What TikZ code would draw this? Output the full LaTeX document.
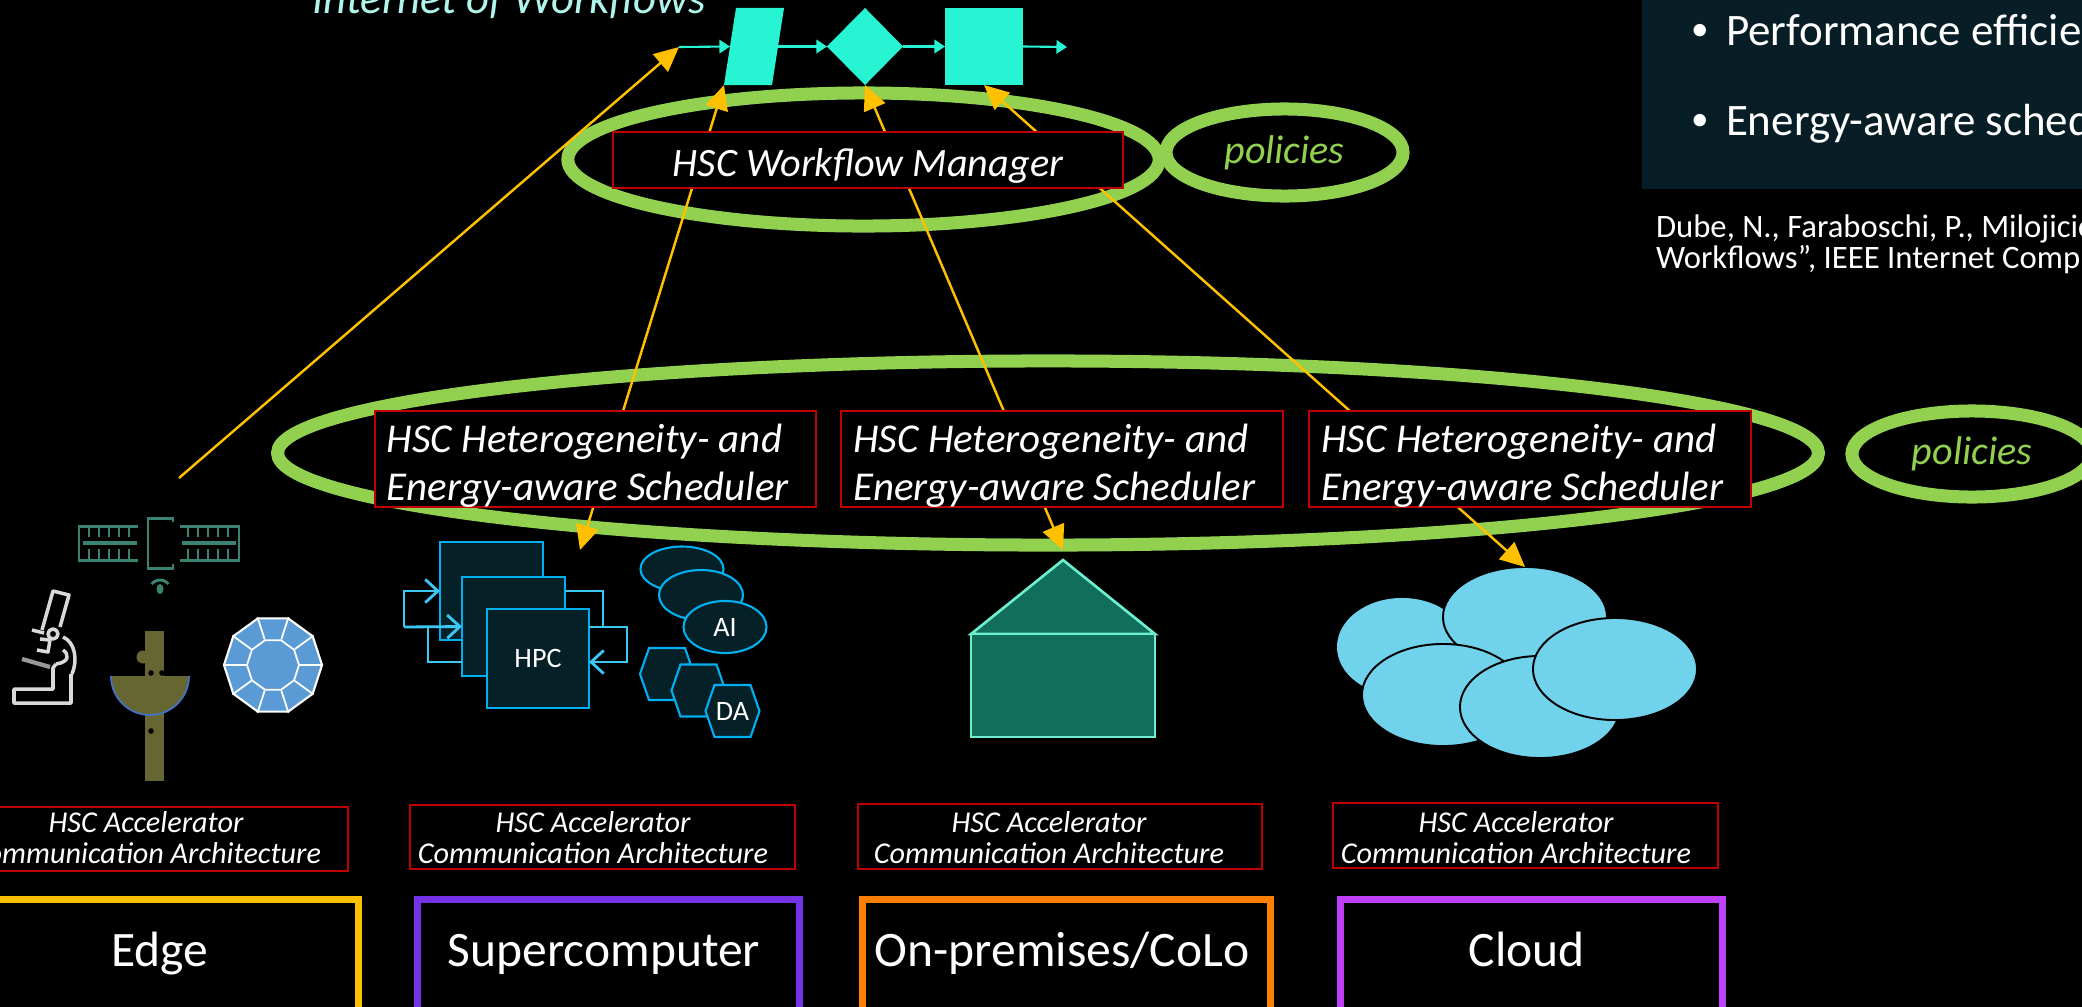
\documentclass[tikz,border=0pt]{standalone}
\usepackage{fontspec}
\setmainfont{Carlito}
\usetikzlibrary{arrows.meta,shapes.geometric,calc}

\definecolor{wfcyan}{RGB}{38,244,210}
\definecolor{wftitle}{RGB}{175,245,235}
\definecolor{lime}{RGB}{146,208,80}
\definecolor{amber}{RGB}{255,192,0}
\definecolor{boxred}{RGB}{192,0,0}
\definecolor{panel}{RGB}{7,30,38}
\definecolor{hpcfill}{RGB}{6,32,40}
\definecolor{hpcline}{RGB}{0,176,240}
\definecolor{loopline}{RGB}{60,200,245}
\definecolor{housefill}{RGB}{16,110,90}
\definecolor{houseline}{RGB}{110,240,208}
\definecolor{cloudfill}{RGB}{112,210,235}
\definecolor{sat}{RGB}{58,130,114}
\definecolor{olive}{RGB}{102,102,51}
\definecolor{bowlblue}{RGB}{68,114,196}
\definecolor{gem}{RGB}{91,155,213}
\definecolor{microgray}{RGB}{217,217,217}
\definecolor{edgec}{RGB}{255,192,0}
\definecolor{superc}{RGB}{118,50,230}
\definecolor{premc}{RGB}{255,128,0}
\definecolor{cloudc}{RGB}{192,64,250}

\begin{document}
\begin{tikzpicture}[x=0.01cm,y=-0.01cm,
  txt/.style={inner sep=0pt, outer sep=0pt, text=white},
  ring/.style={draw=lime, line width=3.7pt},
  redbox/.style={draw=boxred, line width=0.6pt, inner sep=0pt, outer sep=0pt},
  yline/.style={draw=amber, line width=0.7pt, >={Triangle[length=7pt,width=6.5pt]}},
  wfline/.style={draw=wfcyan, line width=0.6pt, ->, >={Triangle[length=3pt,width=3.8pt]}},
  hpcshape/.style={draw=hpcline, fill=hpcfill, line width=0.6pt, inner sep=0pt, outer sep=0pt},
  hpcloop/.style={draw=loopline, line width=0.8pt, >={Straight Barb[length=3.6pt,width=6.6pt]}},
  cloudpart/.style={ellipse, fill=cloudfill, draw=black, line width=0.55pt, inner sep=0pt, outer sep=0pt},
  platbox/.style={line width=2pt, inner sep=0pt, anchor=north west},
  accbox/.style={redbox, anchor=north west},
  wmfont/.style={font={\fontsize{11.45pt}{13pt}\selectfont\itshape}},
  schedfont/.style={font={\fontsize{11.65pt}{13pt}\selectfont\itshape}},
  accfont/.style={font={\fontsize{8.6pt}{9pt}\selectfont\itshape}},
  platfont/.style={font={\fontsize{14.1pt}{16pt}\selectfont}},
  polfont/.style={font={\fontsize{11.4pt}{13pt}\selectfont\itshape}},
  bulletfont/.style={font={\fontsize{12.8pt}{15pt}\selectfont}},
  dotfont/.style={font={\fontsize{10pt}{12pt}\selectfont}},
  citefont/.style={font={\fontsize{9.3pt}{11pt}\selectfont}},
  titlefont/.style={font={\fontsize{12.7pt}{15pt}\selectfont\itshape}},
  smallfont/.style={font={\fontsize{8pt}{9pt}\selectfont}}
]
\useasboundingbox (0,0) rectangle (2082,1006);
\fill[black] (-50,-50) rectangle (2150,1060);

% ---------- reference panel (top right) ----------
\fill[panel] (1642,-10) rectangle (2100,189);
\node[txt, dotfont, anchor=base west] (dot1) at (1691,40) {•};
\node[txt, bulletfont, anchor=base west] (perf) at (1726,45) {Performance efficiency};
\node[txt, dotfont, anchor=base west] (dot2) at (1691,130) {•};
\node[txt, bulletfont, anchor=base west] (ener) at (1726,135) {Energy-aware scheduling};
\node[txt, citefont, anchor=base west] (cite1) at (1656,237) {Dube, N., Faraboschi, P., Milojicic, D.,};
\node[txt, citefont, anchor=base west] (cite2) at (1656,268) {Workflows”, IEEE Internet Computing};

% ---------- workflow ----------
\node[txt, titlefont, text=wftitle, anchor=base] (title) at (509,14) {Internet of Workflows};
\node[inner sep=0pt, outer sep=0pt, minimum width=0.6cm, minimum height=0.77cm] (par) at (754,46.5) {};
\fill[wfcyan] (par.south west) -- ($(par.south east)+(-12,0)$) -- (par.north east) -- ($(par.north west)+(12,0)$) -- cycle;
\node[diamond, fill=wfcyan, inner sep=0pt, outer sep=0pt, minimum width=0.76cm, minimum height=0.77cm] (dia) at (865,46.5) {};
\node[fill=wfcyan, inner sep=0pt, outer sep=0pt, minimum width=0.78cm, minimum height=0.77cm] (sq) at (984,46.5) {};
\coordinate (wfin) at (679,47);
\coordinate (wfout) at (1067,47);
\draw[wfline] (wfin) -- ($(par.west)+(6,0)$);
\draw[wfline] ($(par.east)+(-6,0)$) -- (dia.west);
\draw[wfline] (dia.east) -- (sq.west);
\draw[wfline] (sq.east) -- (wfout);

% ---------- edge devices ----------
% satellite
\begin{scope}[draw=sat, line width=0.85pt]
  \draw (138,526) -- (79,526) -- (79,560) -- (138,560);
  \draw (180,526) -- (239,526) -- (239,560) -- (180,560);
  \draw[line width=1.2pt] (83,543) -- (137,543);
  \draw[line width=1.2pt] (182,543) -- (236,543);
  \foreach \x in {89,99,...,129} {\draw (\x,526) -- (\x,537); \draw (\x,549) -- (\x,560);}
  \foreach \x in {188,198,...,228} {\draw (\x,526) -- (\x,537); \draw (\x,549) -- (\x,560);}
  \draw (173,522) -- (173,518) -- (148,518) -- (148,568) -- (173,568) -- (173,564);
  \coordinate (sig) at (160,591);
  \draw ([shift={(40:0.11cm)}]sig) arc[start angle=40, end angle=140, radius=0.11cm];
  \fill[sat] (160,589) ellipse[x radius=0.035cm, y radius=0.05cm];
\end{scope}
% microscope
\begin{scope}[draw=microgray, line width=1pt, line join=round]
  \draw (42,630) -- (53,591) -- (69,595) -- (60,627);
  \draw (32,630) -- (44,633);
  \draw (53,634) circle[radius=0.05cm];
  \draw (40,639) -- (50,640) -- (48,652) -- (37,650);
  \draw (63,637) .. controls (75,642) and (78,660) .. (72,674);
  \draw (63,650) .. controls (69,654) and (70,662) .. (56,664);
  \draw (56,664) -- (53,668) -- (53,689) -- (14,689) -- (14,703) -- (71,703) -- (71,674);
\end{scope}
\draw[gray!80, line width=1.2pt] (22,659) -- (50,667);
% antenna dish
\fill[olive] (143,657) circle[radius=0.065cm];
\fill[olive] (145,631) rectangle (164,781);
\fill[olive] (189,676) arc[start angle=0, end angle=-180, radius=0.39cm] -- cycle;
\draw[bowlblue, line width=0.5pt] (189,676) arc[start angle=0, end angle=-180, radius=0.39cm];
\foreach \p in {(151,673),(162,673),(151,731)} \fill[black] \p circle[radius=0.028cm];
% sensor gem
\node[regular polygon, regular polygon sides=10, minimum size=0.98cm, inner sep=0pt, fill=gem, draw=white, line width=0.6pt] (gemo) at (273,665) {};
\node[regular polygon, regular polygon sides=10, minimum size=0.52cm, inner sep=0pt, draw=white, line width=0.5pt] (gemi) at (273,665) {};
\foreach \k in {1,...,10} \draw[white, line width=0.5pt] (gemi.corner \k) -- (gemo.corner \k);

% ---------- supercomputer ----------
\node[hpcshape, minimum width=1.03cm, minimum height=0.98cm] (hpcA) at (491.5,591) {};
\node[hpcshape, minimum width=1.03cm, minimum height=0.99cm] (hpcB) at (513.5,626.5) {};
\node[hpcshape, minimum width=1.02cm, minimum height=0.99cm, text=white, smallfont] (hpcC) at (538,658.5) {HPC};
\draw[hpcloop, ->] (404,627) |- (hpcA.west);
\draw[hpcloop, ->] (404,627) -- (hpcB.west);
\draw[hpcloop] (428,627) |- (462,662);
\draw[hpcloop] (565,591) -| (603,627) -- (589,627);
\draw[hpcloop, ->] (589,627) -| (627,662) -- (589,662);
\node[hpcshape, ellipse, minimum width=0.83cm, minimum height=0.45cm] (aiA) at (682,569) {};
\node[hpcshape, ellipse, minimum width=0.84cm, minimum height=0.50cm] (aiB) at (701,595) {};
\node[hpcshape, ellipse, minimum width=0.83cm, minimum height=0.52cm, text=white, smallfont] (aiC) at (725,627) {AI};
\foreach \cx/\cy/\n in {667/674/daA, 698.5/690.5/daB, 732.5/711/daC} {
  \draw[hpcshape] (\cx-27,\cy) -- (\cx-18,\cy-26) -- (\cx+18,\cy-26) -- (\cx+27,\cy) -- (\cx+18,\cy+26) -- (\cx-18,\cy+26) -- cycle;
  \coordinate (\n) at (\cx,\cy);
}
\node[txt, smallfont] (datxt) at (daC) {DA};

% ---------- on-premises ----------
\coordinate (apex) at (1063,560);
\filldraw[fill=housefill, draw=houseline, line width=0.75pt] (971,634) -- (apex) -- (1155,634) -- cycle;
\filldraw[fill=housefill, draw=houseline, line width=0.75pt] (971,634) rectangle (1155,737);

% ---------- cloud ----------
\node[cloudpart, draw=none, minimum width=1.30cm, minimum height=0.98cm] (cl1) at (1402,647) {};
\node[cloudpart, minimum width=1.64cm, minimum height=1.00cm] (cl2) at (1525,617) {};
\node[cloudpart, minimum width=1.62cm, minimum height=1.02cm] (cl3) at (1443,695) {};
\node[cloudpart, minimum width=1.60cm, minimum height=1.02cm] (cl4) at (1540,707) {};
\node[cloudpart, minimum width=1.64cm, minimum height=1.02cm] (cl5) at (1615,669) {};

% ---------- policy rings ----------
\draw[ring] (863.5,159.5) ellipse[x radius=2.955cm, y radius=0.665cm];
\node[ring, ellipse, inner sep=0pt, minimum width=2.37cm, minimum height=0.87cm, text=lime, polfont] (pol1) at (1284.5,152.5) {policies};
\draw[ring] (1048,453) ellipse[x radius=7.7cm, y radius=0.92cm];
\node[ring, ellipse, inner sep=0pt, minimum width=2.40cm, minimum height=0.86cm, text=lime, polfont] (pol2) at (1972,454) {policies};

% ---------- control connectors ----------
\coordinate (edgeout) at (179,478);
\coordinate (hpcin) at (580,550);
\coordinate (housein) at (1063,550);
\draw[yline, ->] (edgeout) -- (wfin);
\draw[yline, <->] (hpcin) -- (par.south west);
\draw[yline, <->] (housein) -- (dia.south);
\draw[yline, <->] (cl2.north) -- (sq.south);

% ---------- managers and schedulers ----------
\node[redbox, fill=black, minimum width=5.10cm, minimum height=0.56cm] (wfm) at (868,160) {};
\node[txt, wmfont, anchor=base] (wfmtxt) at (868,176) {HSC Workflow Manager};
\foreach \cx/\n in {595.5/s1, 1062/s2, 1530/s3} {
  \node[redbox, fill=black, minimum width=4.41cm, minimum height=0.96cm] (\n) at (\cx,459) {};
  \node[txt, schedfont, anchor=base west] (\n a) at ($(\n.west)+(12,-7)$) {HSC Heterogeneity- and};
  \node[txt, schedfont, anchor=base west] (\n b) at ($(\n.west)+(12,41)$) {Energy-aware Scheduler};
}

% ---------- accelerator layers ----------
\node[accbox, minimum width=4.04cm, minimum height=0.64cm] (acc1) at (-56,807) {};
\node[accbox, minimum width=3.85cm, minimum height=0.64cm] (acc2) at (410,805) {};
\node[accbox, minimum width=4.04cm, minimum height=0.65cm] (acc3) at (858,804) {};
\node[accbox, minimum width=3.85cm, minimum height=0.65cm] (acc4) at (1333,803) {};
\foreach \x/\n in {146/acc1, 593/acc2, 1049/acc3, 1516/acc4} {
  \node[txt, accfont, anchor=base] (\n a) at (\x,832) {HSC Accelerator};
  \node[txt, accfont, anchor=base] (\n b) at (\x,863) {Communication Architecture};
}

% ---------- platforms ----------
\node[platbox, draw=edgec, minimum width=3.82cm, minimum height=1.5cm] (edge) at (-27.5,895.5) {};
\node[platbox, draw=superc, minimum width=3.82cm, minimum height=1.5cm] (super) at (413.5,895.5) {};
\node[platbox, draw=premc, minimum width=4.08cm, minimum height=1.5cm] (prem) at (858.5,895.5) {};
\node[platbox, draw=cloudc, minimum width=3.82cm, minimum height=1.5cm] (cloud) at (1336.5,895.5) {};
\node[txt, platfont, anchor=base] (edget) at (160,966) {Edge};
\node[txt, platfont, anchor=base] (supert) at (604,966) {Supercomputer};
\node[txt, platfont, anchor=base] (premt) at (1062,966) {On-premises/CoLo};
\node[txt, platfont, anchor=base] (cloudt) at (1527,966) {Cloud};
\end{tikzpicture}
\end{document}
